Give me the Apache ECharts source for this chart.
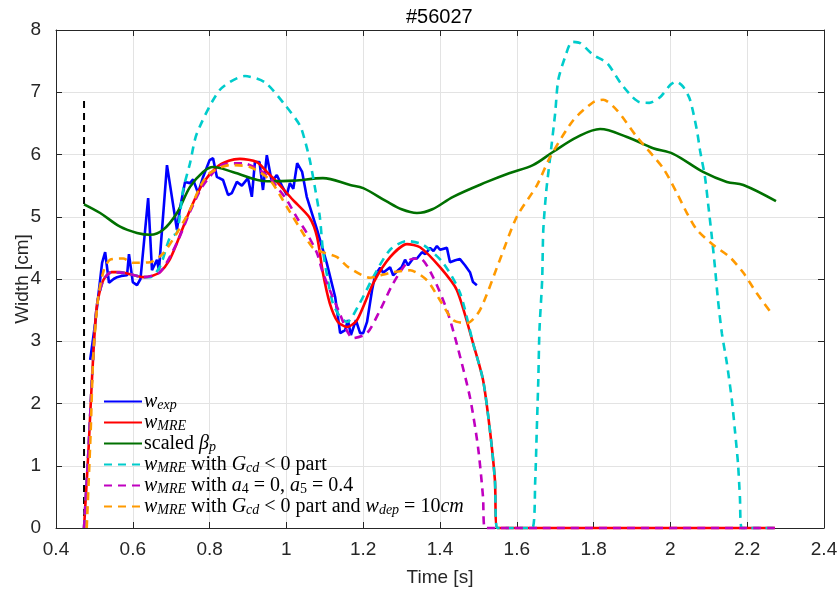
<!DOCTYPE html>
<html>
<head>
<meta charset="utf-8">
<script src="https://cdn.jsdelivr.net/npm/echarts@6/dist/echarts.min.js"></script>
<style>
  html, body { margin: 0; padding: 0; background: #fff; }
  #chart { width: 839px; height: 590px; }
</style>
</head>
<body>
<div id="chart"></div>
<script>
// Shot #56027: island width vs time, measured and modelled
const xTicks = [0.4, 0.6, 0.8, 1, 1.2, 1.4, 1.6, 1.8, 2, 2.2, 2.4];
const yTicks = [0, 1, 2, 3, 4, 5, 6, 7, 8];

// Start-time marker (black dashed)
const startMarker = [[0.473, 0], [0.473, 6.9]];

// w_exp (measured)
const wExp = [[0.489,2.70],[0.502,3.29],[0.52,4.26],[0.528,4.43],[0.538,3.94],[0.55,4.0],[0.559,4.03],[0.57,4.05],[0.585,4.06],[0.59,4.40],[0.60,3.95],[0.611,3.90],[0.62,4.0],[0.64,5.30],[0.65,4.14],[0.663,4.31],[0.668,4.14],[0.689,5.83],[0.715,4.79],[0.723,5.14],[0.736,5.56],[0.749,5.54],[0.757,5.6],[0.77,5.38],[0.783,5.64],[0.80,5.91],[0.809,5.94],[0.819,5.64],[0.835,5.59],[0.848,5.35],[0.858,5.38],[0.871,5.56],[0.884,5.5],[0.90,5.62],[0.91,5.32],[0.918,5.88],[0.93,5.88],[0.939,5.43],[0.949,5.99],[0.962,5.56],[0.975,5.67],[0.988,5.5],[1.001,5.35],[1.009,5.54],[1.018,5.45],[1.028,5.86],[1.041,5.72],[1.053,5.32],[1.08,4.79],[1.105,4.26],[1.127,3.71],[1.14,3.13],[1.153,3.18],[1.16,3.34],[1.168,3.10],[1.181,3.34],[1.192,3.13],[1.2,3.13],[1.21,3.31],[1.223,3.82],[1.231,4.06],[1.244,4.18],[1.252,4.10],[1.27,4.19],[1.278,4.06],[1.291,4.14],[1.30,4.19],[1.309,4.31],[1.317,4.22],[1.33,4.33],[1.34,4.33],[1.353,4.43],[1.362,4.40],[1.374,4.50],[1.383,4.45],[1.392,4.53],[1.40,4.47],[1.418,4.50],[1.426,4.27],[1.44,4.30],[1.452,4.32],[1.465,4.22],[1.478,4.11],[1.486,3.95],[1.496,3.90]];

// w_MRE (model)
const wMre = [[0.473,0],[0.485,1.3],[0.494,2.43],[0.506,3.55],[0.523,3.98],[0.545,4.11],[0.565,4.11],[0.585,4.09],[0.627,4.03],[0.65,4.05],[0.671,4.11],[0.695,4.3],[0.715,4.58],[0.749,5.11],[0.783,5.54],[0.819,5.80],[0.85,5.9],[0.879,5.93],[0.923,5.88],[0.949,5.72],[0.975,5.56],[1.017,5.27],[1.061,4.98],[1.08,4.67],[1.095,4.10],[1.113,3.61],[1.134,3.31],[1.158,3.23],[1.184,3.34],[1.226,3.93],[1.27,4.35],[1.314,4.56],[1.348,4.51],[1.40,4.19],[1.444,3.82],[1.486,2.97],[1.512,2.38],[1.53,1.57],[1.543,0.77],[1.549,0],[2.272,0]];

// scaled beta_p
const betaP = [[0.473,5.20],[0.515,5.06],[0.567,4.84],[0.611,4.74],[0.645,4.71],[0.679,4.79],[0.715,5.06],[0.749,5.48],[0.783,5.72],[0.809,5.80],[0.86,5.72],[0.95,5.57],[1.02,5.58],[1.095,5.62],[1.166,5.51],[1.2,5.46],[1.26,5.25],[1.30,5.12],[1.34,5.06],[1.38,5.12],[1.434,5.32],[1.522,5.56],[1.58,5.7],[1.642,5.83],[1.694,6.04],[1.757,6.28],[1.817,6.41],[1.887,6.28],[1.955,6.10],[2.007,6.01],[2.085,5.72],[2.147,5.56],[2.19,5.51],[2.275,5.25]];

// w_MRE with G_cd < 0 part
const wGcd = [[0.473,0],[0.485,1.3],[0.494,2.43],[0.506,3.55],[0.523,3.98],[0.545,4.11],[0.585,4.09],[0.627,4.03],[0.645,4.03],[0.671,4.2],[0.697,4.67],[0.715,4.74],[0.731,5.43],[0.749,5.86],[0.767,6.34],[0.827,7.04],[0.892,7.26],[0.944,7.16],[0.996,6.80],[1.035,6.47],[1.048,6.23],[1.061,5.91],[1.074,5.48],[1.087,5.0],[1.095,4.47],[1.108,3.98],[1.121,3.61],[1.14,3.39],[1.158,3.31],[1.19,3.6],[1.226,4.03],[1.27,4.47],[1.314,4.61],[1.356,4.55],[1.408,4.26],[1.452,3.78],[1.486,2.97],[1.512,2.38],[1.53,1.57],[1.543,0.77],[1.549,0],[1.64,0],[1.648,0.77],[1.652,1.57],[1.656,2.38],[1.659,3.18],[1.666,3.98],[1.669,4.79],[1.677,5.43],[1.687,5.96],[1.70,6.67],[1.708,7.2],[1.726,7.57],[1.744,7.81],[1.765,7.79],[1.799,7.6],[1.835,7.47],[1.87,7.15],[1.90,6.93],[1.92,6.84],[1.945,6.83],[1.973,6.92],[2.0,7.12],[2.015,7.17],[2.033,7.09],[2.051,6.88],[2.069,6.39],[2.077,6.07],[2.09,5.64],[2.098,5.22],[2.108,4.67],[2.116,4.19],[2.124,3.66],[2.134,3.13],[2.147,2.65],[2.16,2.06],[2.168,1.57],[2.176,1.04],[2.181,0.5],[2.186,0],[2.272,0]];

// w_MRE with a4 = 0, a5 = 0.4
const wA45 = [[0.473,0],[0.485,1.3],[0.494,2.43],[0.506,3.55],[0.523,3.98],[0.545,4.11],[0.585,4.09],[0.627,4.03],[0.671,4.11],[0.715,4.58],[0.749,5.08],[0.783,5.5],[0.835,5.84],[0.887,5.86],[0.931,5.75],[0.957,5.62],[0.975,5.48],[1.001,5.27],[1.028,4.98],[1.053,4.74],[1.08,4.41],[1.095,4.10],[1.132,3.55],[1.174,3.05],[1.21,3.13],[1.244,3.50],[1.278,3.93],[1.322,4.31],[1.348,4.33],[1.382,4.03],[1.418,3.50],[1.444,2.95],[1.478,2.10],[1.499,1.30],[1.512,0.5],[1.517,0],[2.272,0]];

// w_MRE with G_cd < 0 part and w_dep = 10cm
const wDep = [[0.48,0],[0.49,1.5],[0.497,2.75],[0.51,3.71],[0.525,4.15],[0.541,4.31],[0.575,4.33],[0.60,4.26],[0.645,4.27],[0.679,4.41],[0.715,4.74],[0.749,5.11],[0.775,5.48],[0.80,5.70],[0.853,5.83],[0.905,5.80],[0.957,5.59],[1.001,5.16],[1.035,4.82],[1.069,4.50],[1.095,4.43],[1.132,4.35],[1.161,4.19],[1.218,4.02],[1.27,4.10],[1.322,4.14],[1.366,3.98],[1.40,3.66],[1.434,3.34],[1.47,3.29],[1.504,3.50],[1.556,4.31],[1.60,5.0],[1.652,5.5],[1.687,5.96],[1.747,6.55],[1.799,6.84],[1.825,6.88],[1.861,6.71],[1.913,6.28],[1.981,5.78],[2.017,5.38],[2.043,5.06],[2.069,4.79],[2.111,4.55],[2.155,4.35],[2.19,4.10],[2.225,3.77],[2.267,3.42]];

const seriesNames = ['wexp', 'wmre', 'betap', 'gcd', 'a45', 'dep'];
const legendLabels = {
  wexp: '{i|w}{s|exp}',
  wmre: '{i|w}{s|MRE}',
  betap: '{n|scaled }{i|β}{s|p}',
  gcd: '{i|w}{s|MRE}{n| with }{i|G}{s|cd}{n| < 0 part}',
  a45: '{i|w}{s|MRE}{n| with }{i|a}{sn|4}{n| = 0, }{i|a}{sn|5}{n| = 0.4}',
  dep: '{i|w}{s|MRE}{n| with }{i|G}{s|cd}{n| < 0 part and }{i|w}{s|dep}{n| = 10}{i|cm}'
};

const axisFont = "'Liberation Sans', Arial, sans-serif";
const mathFont = "'Liberation Serif', 'DejaVu Serif', serif";
const axisColor = '#262626';
const dash = [8, 6];

function lineSeries(name, data, color, dashed, smooth) {
  return {
    name: name, type: 'line', data: data, symbol: 'none', showSymbol: false,
    smooth: smooth, clip: false, animation: false,
    lineStyle: { color: color, width: 2.6, type: dashed ? dash : 'solid', cap: 'butt' },
    itemStyle: { color: color }
  };
}

const chart = echarts.init(document.getElementById('chart'), null, { renderer: 'canvas' });
chart.setOption({
  animation: false,
  backgroundColor: '#ffffff',
  title: {
    text: '#56027', left: 401, top: 2,
    textStyle: { fontFamily: axisFont, fontSize: 20, fontWeight: 'normal', color: '#000' }
  },
  grid: { left: 56, right: 15, top: 30, bottom: 62, containLabel: false, outerBoundsMode: 'none' },
  legend: {
    orient: 'vertical', left: 103, top: 391, itemGap: 0, padding: 0,
    itemWidth: 38, itemHeight: 14,
    data: seriesNames,
    itemStyle: { opacity: 0 },
    formatter: function (name) { return legendLabels[name]; },
    textStyle: {
      padding: [0, 0, 0, -3],
      rich: {
        i: { fontFamily: mathFont, fontStyle: 'italic', fontSize: 20, lineHeight: 18, color: '#000' },
        n: { fontFamily: mathFont, fontSize: 20, lineHeight: 18, color: '#000' },
        s: { fontFamily: mathFont, fontStyle: 'italic', fontSize: 14, lineHeight: 12, color: '#000', padding: [7, 0, 0, 0] },
        sn: { fontFamily: mathFont, fontSize: 14, lineHeight: 12, color: '#000', padding: [7, 0, 0, 0] }
      }
    }
  },
  xAxis: [{
    type: 'value', min: 0.4, max: 2.4, interval: 0.2,
    name: 'Time [s]', nameLocation: 'middle', nameGap: 40,
    nameTextStyle: { fontFamily: axisFont, fontSize: 19, color: axisColor },
    axisLine: { show: true, onZero: false, lineStyle: { color: axisColor, width: 1 } },
    axisTick: { show: true, inside: true, length: 6, lineStyle: { color: axisColor } },
    axisLabel: { fontFamily: axisFont, fontSize: 19, color: axisColor, margin: 12 },
    splitLine: { show: true, lineStyle: { color: '#e3e3e3', width: 1 } }
  }, {
    type: 'value', min: 0.4, max: 2.4, interval: 0.2, position: 'top',
    axisLine: { show: true, onZero: false, lineStyle: { color: axisColor, width: 1 } },
    axisTick: { show: true, inside: true, length: 6, lineStyle: { color: axisColor } },
    axisLabel: { show: false }, splitLine: { show: false }
  }],
  yAxis: [{
    type: 'value', min: 0, max: 8, interval: 1,
    name: 'Width [cm]', nameLocation: 'middle', nameGap: 24, nameRotate: 90,
    nameMoveOverlap: false,
    nameTextStyle: { fontFamily: axisFont, fontSize: 19, color: axisColor },
    axisLine: { show: true, onZero: false, lineStyle: { color: axisColor, width: 1 } },
    axisTick: { show: true, inside: true, length: 6, lineStyle: { color: axisColor } },
    axisLabel: { fontFamily: axisFont, fontSize: 19, color: axisColor, margin: 15 },
    splitLine: { show: true, lineStyle: { color: '#e3e3e3', width: 1 } }
  }, {
    type: 'value', min: 0, max: 8, interval: 1, position: 'right',
    axisLine: { show: true, onZero: false, lineStyle: { color: axisColor, width: 1 } },
    axisTick: { show: true, inside: true, length: 6, lineStyle: { color: axisColor } },
    axisLabel: { show: false }, splitLine: { show: false }
  }],
  series: [
    {
      name: 'start', type: 'line', data: startMarker, symbol: 'none', clip: false,
      lineStyle: { color: '#000', width: 2, type: [7, 5] }, silent: true
    },
    lineSeries('wexp', wExp, '#0000ff', false, false),
    lineSeries('wmre', wMre, '#ff0000', false, 0.25),
    lineSeries('betap', betaP, '#007000', false, 0.35),
    lineSeries('gcd', wGcd, '#00cccc', true, 0.25),
    lineSeries('a45', wA45, '#c000c0', true, 0.25),
    lineSeries('dep', wDep, '#ff9a00', true, 0.25)
  ]
});
</script>
</body>
</html>
